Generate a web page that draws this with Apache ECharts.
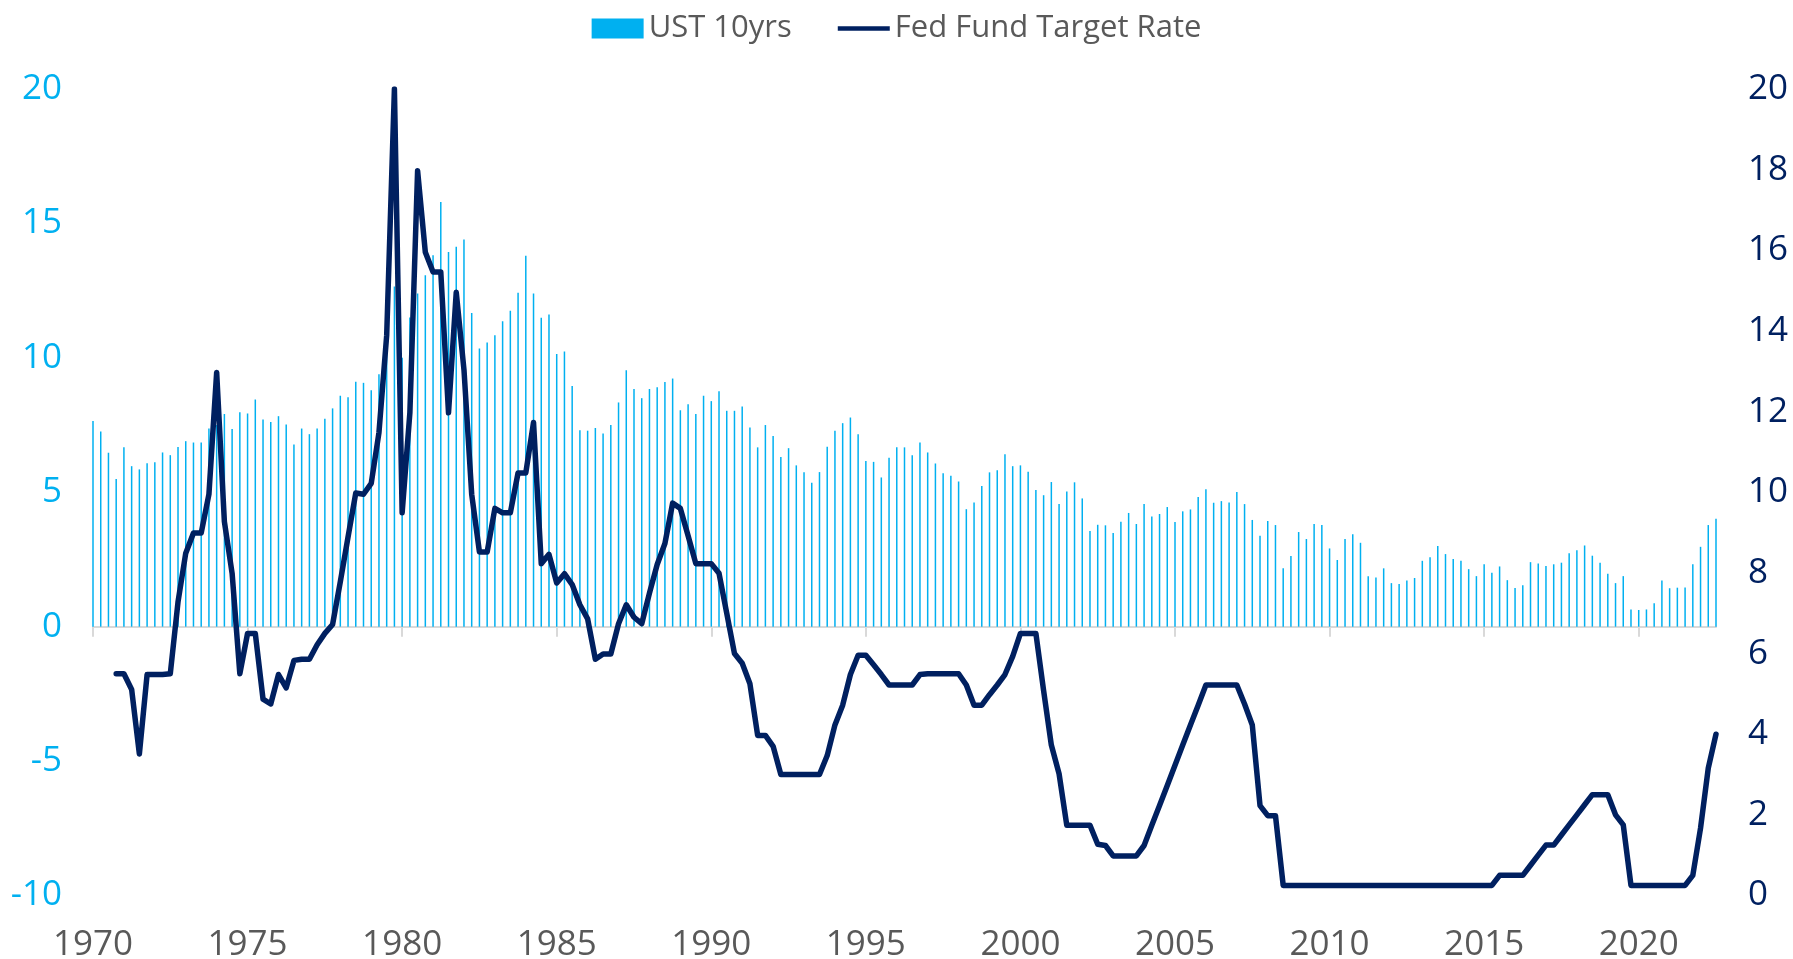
<!DOCTYPE html>
<html>
<head>
<meta charset="utf-8">
<script src="https://cdn.jsdelivr.net/npm/echarts/dist/echarts.min.js"></script>
<style>
html,body{margin:0;padding:0;background:#ffffff;}
#chart{width:1793px;height:959px;}
</style>
</head>
<body>
<div id="chart"></div>
<script>
// Quarterly categories, 1970 Q1 onward (211 quarters)
const startYear = 1970;
const quarterCount = 211;
const categories = [];
for (let i = 0; i < quarterCount; i++) {
  categories.push((startYear + Math.floor(i / 4)) + ' Q' + (i % 4 + 1));
}
const xTickLabels = ['1970','1975','1980','1985','1990','1995','2000','2005','2010','2015','2020'];

// UST 10yrs (left axis, %)
const ust10y = [
  7.65,7.26,6.47,5.49, 6.67,5.97,5.85,6.08, 6.12,6.48,6.38,6.68, 6.90,6.85,6.85,7.37, 7.50,7.91,7.35,7.98,
  7.93,8.45,7.71,7.61, 7.83,7.52,6.78,7.37, 7.16,7.37,7.73,8.12, 8.59,8.53,9.11,9.07, 8.79,9.39,10.40,12.65,
  10.00,11.50,12.39,13.07, 13.82,15.80,13.94,14.13, 14.40,11.67,10.35,10.57, 10.84,11.36,11.75,12.42, 13.80,12.39,11.49,11.61,
  10.14,10.24,8.95,7.31, 7.29,7.39,7.19,7.50, 8.34,9.54,8.84,8.50, 8.84,8.91,9.10,9.23, 8.05,8.27,7.91,8.59,
  8.39,8.76,8.03,8.03, 8.19,7.41,6.67,7.50, 7.09,6.31,6.64,6.00, 5.74,5.35,5.75,6.69, 7.29,7.57,7.78,7.16,
  6.16,6.13,5.55,6.28, 6.67,6.67,6.38,6.85, 6.48,6.07,5.71,5.61, 5.40,4.37,4.62,5.23, 5.74,5.82,6.41,5.97,
  6.00,5.76,5.08,4.89, 5.38,4.56,5.03,5.37, 4.77,3.56,3.79,3.77, 3.48,3.90,4.23,3.82, 4.56,4.10,4.19,4.45,
  3.89,4.29,4.36,4.82, 5.11,4.61,4.67,4.62, 5.01,4.56,3.97,3.38, 3.93,3.78,2.17,2.63, 3.52,3.26,3.82,3.78,
  2.91,2.48,3.26,3.44, 3.12,1.88,1.83,2.17, 1.62,1.59,1.72,1.81, 2.45,2.58,3.00,2.70, 2.52,2.45,2.14,1.88,
  2.32,2.01,2.24,1.73, 1.44,1.54,2.40,2.35, 2.26,2.32,2.38,2.73, 2.84,3.02,2.64,2.38, 1.97,1.62,1.88,0.64,
  0.62,0.64,0.87,1.72, 1.43,1.45,1.46,2.32, 2.97,3.78,4.01
];

// Fed Fund Target Rate (right axis, %)
const fedRate = [
  null,null,null,5.50, 5.50,5.11,3.51,5.48, 5.48,5.48,5.50,7.28, 8.49,8.99,8.99,9.95, 12.97,9.27,7.99,5.50,
  6.50,6.50,4.87,4.75, 5.48,5.15,5.83,5.86, 5.86,6.22,6.50,6.72, 7.78,8.89,9.98,9.95, 10.22,11.48,13.89,20.00,
  9.49,11.97,17.97,15.95, 15.46,15.46,11.97,14.96, 13.04,9.95,8.52,8.52, 9.60,9.49,9.49,10.48, 10.48,11.73,8.23,8.46,
  7.75,7.98,7.71,7.21, 6.86,5.86,5.99,5.99, 6.74,7.21,6.90,6.74, 7.50,8.21,8.73,9.73, 9.60,8.92,8.23,8.23,
  8.23,7.99,7.00,6.00, 5.76,5.25,3.97,3.97, 3.70,3.00,3.00,3.00, 3.00,3.00,3.00,3.47, 4.23,4.72,5.48,5.96,
  5.96,5.72,5.48,5.22, 5.22,5.22,5.22,5.48, 5.50,5.50,5.50,5.50, 5.50,5.22,4.72,4.72, 4.98,5.22,5.48,5.93,
  6.50,6.50,6.50,5.08, 3.73,3.02,1.74,1.74, 1.74,1.74,1.27,1.24, 0.98,0.98,0.98,0.98, 1.24,1.74,2.23,2.73,
  3.23,3.73,4.23,4.72, 5.22,5.22,5.22,5.22, 5.22,4.75,4.23,2.23, 1.98,1.98,0.25,0.25, 0.25,0.25,0.25,0.25,
  0.25,0.25,0.25,0.25, 0.25,0.25,0.25,0.25, 0.25,0.25,0.25,0.25, 0.25,0.25,0.25,0.25, 0.25,0.25,0.25,0.25,
  0.25,0.25,0.50,0.50, 0.50,0.50,0.75,1.00, 1.25,1.25,1.50,1.75, 2.00,2.25,2.50,2.50, 2.50,2.00,1.75,0.25,
  0.25,0.25,0.25,0.25, 0.25,0.25,0.25,0.50, 1.67,3.16,4.00
];

const chart = echarts.init(document.getElementById('chart'), null, {renderer: 'canvas'});
const labelFont = '"Open Sans", "Noto Sans", sans-serif';
const every20 = function (i) { return i % 20 === 0; };
const option = {
  animation: false,
  backgroundColor: '#ffffff',
  legend: {
    top: 8,
    left: 'center',
    itemWidth: 52,
    itemHeight: 20,
    itemGap: 46,
    symbolKeepAspect: true,
    textStyle: {fontFamily: labelFont, fontSize: 31, color: '#595959'},
    data: [
      {name: 'UST 10yrs', icon: 'rect'},
      {name: 'Fed Fund Target Rate', icon: 'path://M0,0 L56,0 L56,5 L0,5 Z'}
    ]
  },
  grid: {left: 93, right: 77, top: 89, bottom: 63.5, containLabel: false, outerBoundsMode: 'none'},
  xAxis: [
    {
      type: 'category',
      data: categories,
      boundaryGap: false,
      position: 'bottom',
      axisLine: {show: true, onZero: true, lineStyle: {color: '#D9D9D9', width: 2}},
      axisTick: {show: true, interval: every20, length: 10, lineStyle: {color: '#D9D9D9', width: 2}},
      axisLabel: {show: false},
      splitLine: {show: false}
    },
    {
      type: 'category',
      data: categories,
      boundaryGap: false,
      position: 'bottom',
      axisLine: {show: false, onZero: false},
      axisTick: {show: false},
      axisLabel: {
        interval: every20,
        formatter: function (v, i) { return xTickLabels[Math.round(i / 20)] || ''; },
        margin: 38,
        lineHeight: 24,
        fontFamily: labelFont,
        fontSize: 35,
        color: '#595959'
      },
      splitLine: {show: false}
    }
  ],
  yAxis: [
    {
      type: 'value', position: 'left', min: -10, max: 20, interval: 5,
      axisLine: {show: false}, axisTick: {show: false}, splitLine: {show: false},
      axisLabel: {fontFamily: labelFont, fontSize: 35, color: '#00B0F0', margin: 31}
    },
    {
      type: 'value', position: 'right', min: 0, max: 20, interval: 2,
      axisLine: {show: false}, axisTick: {show: false}, splitLine: {show: false},
      axisLabel: {fontFamily: labelFont, fontSize: 35, color: '#002060', margin: 32}
    }
  ],
  series: [
    {
      name: 'UST 10yrs', type: 'bar', xAxisIndex: 0, yAxisIndex: 0, data: ust10y, barWidth: 1.5,
      itemStyle: {color: '#00B0F0'}
    },
    {
      name: 'Fed Fund Target Rate', type: 'line', xAxisIndex: 0, yAxisIndex: 1, data: fedRate,
      symbol: 'none', connectNulls: false,
      lineStyle: {color: '#002060', width: 5.5, join: 'round', cap: 'round'},
      itemStyle: {color: '#002060'}
    }
  ]
};
chart.setOption(option);
</script>
</body>
</html>
